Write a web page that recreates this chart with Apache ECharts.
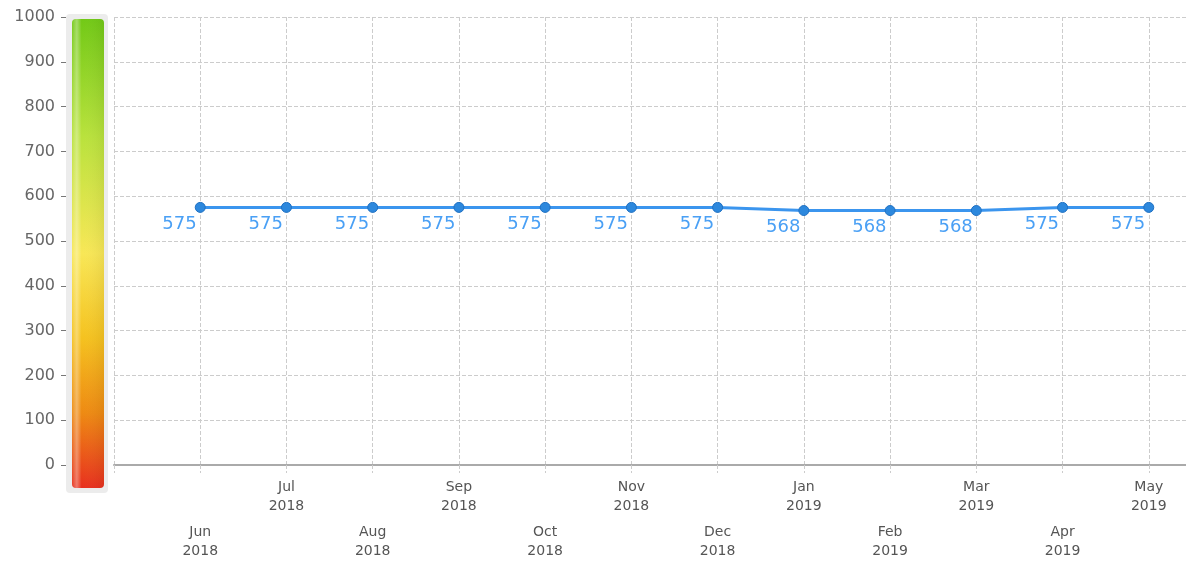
<!DOCTYPE html>
<html>
<head>
<meta charset="utf-8">
<script src="https://cdn.jsdelivr.net/npm/echarts@6/dist/echarts.min.js"></script>
<style>
  html, body { margin: 0; padding: 0; background: #fff; }
  #chart { width: 1186px; height: 567px; }
</style>
</head>
<body>
<div id="chart"></div>
<script>
// monthly values, Jun 2018 - May 2019
const months = ["Jun", "Jul", "Aug", "Sep", "Oct", "Nov", "Dec", "Jan", "Feb", "Mar", "Apr", "May"];
const years = ["2018", "2018", "2018", "2018", "2018", "2018", "2018", "2019", "2019", "2019", "2019", "2019"];
const values = [575, 575, 575, 575, 575, 575, 575, 568, 568, 568, 575, 575];
const yTicks = [0, 100, 200, 300, 400, 500, 600, 700, 800, 900, 1000];

// one empty slot on each side so the axis starts one step before Jun
const categories = [""].concat(months.map((m, i) => m + "\n" + years[i]), [""]);
const seriesData = [null].concat(values, [null]);

const chart = echarts.init(document.getElementById("chart"));

const gauge = new echarts.graphic.LinearGradient(0, 0, 0, 1, [
  { offset: 0, color: "#72c916" },
  { offset: 0.25, color: "#b9e23c" },
  { offset: 0.5, color: "#f8e756" },
  { offset: 0.68, color: "#f5c21f" },
  { offset: 0.84, color: "#ee8a12" },
  { offset: 1, color: "#e8301e" },
]);
const gloss = new echarts.graphic.LinearGradient(0, 0, 1, 0, [
  { offset: 0, color: "rgba(255,255,255,0.05)" },
  { offset: 0.15, color: "rgba(255,255,255,0.35)" },
  { offset: 0.3, color: "rgba(255,255,255,0.0)" },
  { offset: 1, color: "rgba(0,0,0,0.06)" },
]);

const option = {
  animation: false,
  textStyle: { fontFamily: "DejaVu Sans" },
  // 13 steps of ~86px: last step runs off the right edge
  grid: { left: 114, width: 1121, top: 17, bottom: 102, outerBoundsMode: "none" },
  graphic: [
    { type: "rect", shape: { x: 66, y: 14, width: 42, height: 479, r: 4 }, style: { fill: "#ececec" }, z: 1 },
    { type: "rect", shape: { x: 72, y: 19, width: 32, height: 469, r: 4 }, style: { fill: gauge }, z: 2 },
    { type: "rect", shape: { x: 72, y: 19, width: 32, height: 469, r: 4 }, style: { fill: gloss }, z: 3 },
  ],
  xAxis: {
    type: "category",
    data: categories,
    boundaryGap: false,
    axisLine: { lineStyle: { color: "#aaa", width: 2 } },
    axisTick: { show: true, interval: 0, length: 8, lineStyle: { color: "#ccc", type: "dashed" } },
    splitLine: { show: true, interval: 0, lineStyle: { color: "#ccc", type: "dashed" } },
    axisLabel: {
      interval: 0,
      margin: 13,
      fontSize: 14,
      lineHeight: 19,
      color: "#555",
      formatter: (val, idx) => {
        if (!val) return "";
        // Jun, Aug, ... go on the lower row
        return idx % 2 === 1 ? "{s| }\n{s| }\n" + val : val;
      },
      rich: { s: { lineHeight: 22.5, fontSize: 14 } },
    },
  },
  yAxis: {
    type: "value",
    min: 0,
    max: 1000,
    interval: 100,
    offset: 48,
    axisLine: { show: false },
    axisTick: { show: true, length: 5, lineStyle: { color: "#777" } },
    splitLine: { lineStyle: { color: "#ccc", type: "dashed" } },
    axisLabel: {
      margin: 11,
      fontSize: 16,
      color: "#666",
      formatter: (v) => (yTicks.indexOf(v) >= 0 ? String(v) : ""),
    },
  },
  series: [
    {
      type: "line",
      data: seriesData,
      symbol: "circle",
      symbolSize: 10,
      lineStyle: { color: "#3b95ee", width: 3 },
      itemStyle: { color: "#2d88dd", borderColor: "#1f70c2", borderWidth: 1 },
      label: {
        show: true,
        position: [2, 13],
        align: "right",
        verticalAlign: "top",
        fontSize: 18,
        color: "#4aa0f5",
      },
      z: 5,
    },
  ],
};

chart.setOption(option);
</script>
</body>
</html>
